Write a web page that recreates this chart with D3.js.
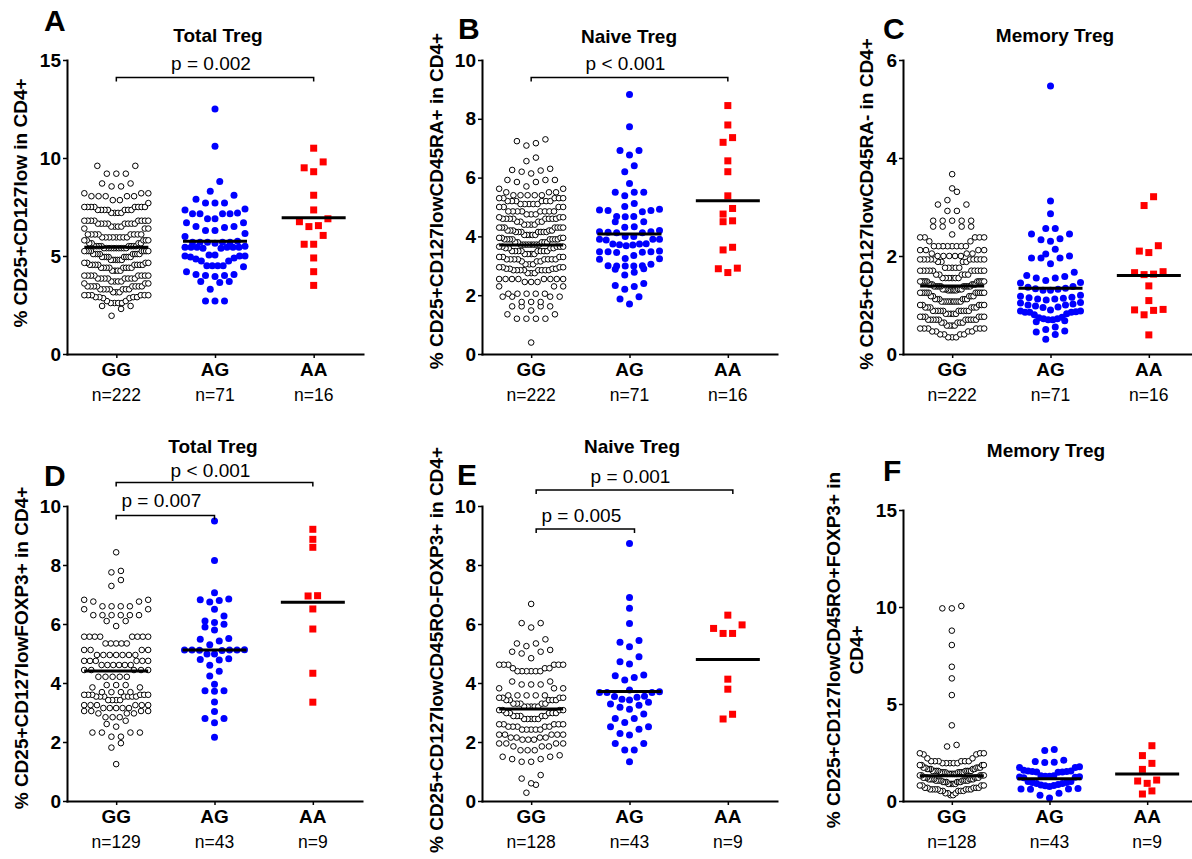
<!DOCTYPE html>
<html>
<head>
<meta charset="utf-8">
<script src="https://cdn.jsdelivr.net/npm/d3@7"></script>
<style>
  body { margin: 0; background: #fff; }
  text { font-family: "Liberation Sans", Arial, sans-serif; fill: #000; }
</style>
</head>
<body>
<svg id="chart" width="1192" height="859"></svg>
<script>
var genotypes = ["GG", "AG", "AA"];

// GG columns are given as [value, count] rows
// A: Total Treg (CD25+CD127low)
var aGG = [[9.6,2],[9.2,3],[8.7,2],[8.55,2],[8.2,3],[8.05,5],[7.85,2],[7.7,1],
  [7.5,8],[7.35,7],[7.2,4],[6.8,8],[6.65,8],[6.5,4],[6.4,3],
  [6.1,8],[5.95,8],[5.8,5],[5.65,4],[5.5,8],[5.4,10],[5.25,8],
  [5.1,8],[4.95,8],[4.8,6],[4.65,4],[4.55,8],[4.4,8],[4.25,4],
  [4.0,8],[3.85,8],[3.7,4],[3.6,3],[3.45,8],[3.3,7],[3.15,3],
  [3.0,6],[2.9,4],[2.85,2],[2.7,2],[2.6,4],[2.45,2],[2.3,1],[1.95,1]];
var aAG = [12.5,10.6,8.8,8.3,8.1,7.9,7.7,7.7,7.7,7.4,7.35,7.15,7.15,7.15,7.15,7.2,
  6.9,6.9,6.7,6.7,6.45,6.5,6.5,6.3,6.3,6.0,6.15,5.7,5.7,5.7,5.75,5.7,5.65,5.7,
  5.45,5.45,5.45,5.4,5.45,5.45,5.4,5.5,5.45,5.05,5.0,5.0,4.95,5.05,4.9,5.0,4.85,
  4.75,4.75,4.5,4.5,4.45,4.5,4.5,4.2,4.05,3.95,4.0,4.0,4.05,3.7,3.65,3.7,3.3,2.7,2.7,2.7];
var aAA = [10.5,9.8,9.5,9.3,8.1,7.35,6.9,6.75,6.55,6.5,6.05,5.6,5.6,4.9,4.2,3.5];
var aMed = [5.45, 5.75, 6.95];
var aN = ["n=222", "n=71", "n=16"];
var aP = ["p = 0.002"];

// B: Naive Treg (CD25+CD127lowCD45RA+)
var bGG = [[7.3,1],[7.24,1],[7.17,1],[7.09,1],[6.68,1],[6.56,1],
  [6.3,1],[6.26,1],[6.24,1],[6.2,1],[6.14,1],[5.92,3],[5.85,2],[5.7,1],[5.62,2],
  [5.5,3],[5.4,5],[5.3,5],[5.2,6],[5.1,5],[5.0,4],[4.85,8],[4.75,3],[4.65,3],
  [4.6,8],[4.5,4],[4.4,4],[4.3,7],[4.2,5],[4.15,7],[4.05,5],[3.95,4],
  [3.9,8],[3.8,5],[3.72,8],[3.65,5],[3.6,4],[3.5,8],[3.4,4],[3.3,4],
  [3.22,8],[3.15,3],[3.05,3],[2.95,4],[2.9,4],[2.85,8],[2.75,3],
  [2.55,8],[2.45,3],[2.3,3],[2.05,5],[1.95,4],
  [1.77,3],[1.62,4],[1.48,1],[1.35,2],[1.2,4],[0.39,1]];
var bAG = [8.83,7.73,6.92,6.92,6.77,6.4,6.2,5.8,5.5,5.5,5.5,5.38,
  5.12,5.02,4.92,4.88,4.84,4.88,4.9,4.68,4.68,4.67,4.5,4.5,
  4.33,4.31,4.2,4.16,4.14,4.12,4.12,4.16,4.0,3.9,3.9,3.9,3.88,4.0,
  3.71,3.72,3.75,3.74,3.74,3.68,3.48,3.48,3.46,3.5,3.48,3.45,
  3.25,3.22,3.24,3.35,3.0,2.99,3.0,2.88,3.05,2.9,2.99,2.99,
  2.69,2.78,2.4,2.33,2.3,2.2,1.95,1.87,1.7];
var bAA = [8.45,7.79,7.36,7.2,6.57,6.2,5.38,4.95,4.76,4.5,4.53,3.63,3.54,2.92,2.77,2.9];
var bMed = [3.71, 4.08, 5.21];
var bN = ["n=222", "n=71", "n=16"];
var bP = ["p < 0.001"];

// C: Memory Treg (CD25+CD127lowCD45RA-)
var cGG = [[3.67,1],[3.38,1],[3.31,1],[3.14,1],[3.05,2],[2.92,2],
  [2.72,5],[2.6,4],[2.44,1],[2.38,5],[2.3,2],[2.2,8],[2.12,4],[2.05,3],
  [2.0,5],[1.93,10],[1.88,4],[1.76,5],[1.7,10],[1.62,5],
  [1.55,6],[1.48,10],[1.42,6],[1.38,10],[1.32,6],
  [1.3,6],[1.25,10],[1.18,5],[1.12,6],[1.07,10],[1.0,5],
  [0.95,6],[0.88,10],[0.82,5],[0.76,6],[0.7,10],[0.64,5],
  [0.58,4],[0.52,6],[0.46,4],[0.4,4],[0.34,3]];
var cAG = [5.47,3.12,2.86,2.56,2.56,2.45,2.45,2.35,2.33,2.3,2.14,2.0,1.96,1.96,1.96,2.04,1.84,1.67,
  1.6,1.55,1.5,1.45,1.46,1.55,1.58,1.3,1.32,1.34,1.36,1.38,1.33,1.3,
  1.15,1.12,1.18,1.16,1.2,1.14,1.12,1.1,1.05,1.0,0.98,0.96,0.95,1.0,1.02,1.04,
  0.88,0.85,0.85,0.8,0.82,0.85,0.86,0.9,0.88,0.75,0.72,0.7,0.68,0.66,0.7,0.72,0.74,
  0.55,0.47,0.45,0.4,0.5,0.3];
var cAA = [3.21,3.03,2.21,2.1,2.07,1.66,1.62,1.63,1.68,1.39,1.09,0.91,0.89,0.8,0.9,0.39];
var cMed = [1.39, 1.34, 1.6];
var cN = ["n=222", "n=71", "n=16"];

// D: Total Treg (CD25+CD127lowFOXP3+)
var dGG = [[8.43,1],[7.8,1],[7.75,1],[7.49,1],[7.29,1],
  [6.82,2],[6.76,2],[6.6,4],[6.5,2],[6.3,6],[6.1,2],[5.93,1],
  [5.57,8],[5.34,5],[5.12,4],[4.95,7],[4.75,6],[4.61,6],[4.44,5],[4.21,5],
  [3.93,3],[3.85,2],[3.69,4],[3.6,6],[3.54,7],[3.42,4],
  [3.25,6],[3.15,5],[3.05,4],[2.97,3],[2.84,3],[2.72,1],[2.61,1],[2.52,1],
  [2.32,4],[2.18,2],[1.96,1],[1.81,1],[1.25,1]];
var dAG = [9.49,8.15,7.06,6.82,6.8,6.85,6.75,6.5,6.27,6.1,6.05,5.99,5.9,5.8,
  5.48,5.3,5.42,5.51,5.12,5.12,5.11,5.13,5.12,5.1,5.12,
  4.98,4.98,4.8,4.78,4.82,4.6,4.4,4.24,3.96,3.74,3.72,3.74,
  3.36,3.03,2.8,2.8,2.65,2.16];
var dAA = [9.21,8.87,8.6,6.95,6.96,6.51,5.83,4.33,3.35];
var dMed = [4.41, 5.12, 6.74];
var dN = ["n=129", "n=43", "n=9"];
var dP = ["p < 0.001", "p = 0.007"];

// E: Naive Treg (CD25+CD127lowCD45RO-FOXP3+)
var eGG = [[6.68,1],[6.03,2],[5.88,1],
  [5.48,1],[5.34,2],[5.25,1],[5.12,1],[5.06,2],[5.0,1],[4.84,1],
  [4.62,6],[4.5,3],[4.4,6],[4.05,2],[3.95,3],[3.82,3],
  [3.58,5],[3.5,4],[3.42,5],[3.3,5],[3.2,5],[3.08,4],
  [2.98,5],[2.88,5],[2.78,5],[2.6,5],[2.52,5],[2.42,5],
  [2.25,5],[2.15,4],[2.08,3],[1.95,4],[1.85,3],[1.72,3],
  [1.55,1],[1.5,2],[1.42,2],[1.33,2],
  [0.88,1],[0.76,1],[0.6,1],[0.55,1],[0.28,1]];
var eAG = [8.73,6.9,6.53,6.02,5.44,5.38,5.23,4.89,4.72,4.64,4.27,4.25,4.19,4.1,
  3.76,3.68,3.7,3.68,3.68,3.54,3.42,3.52,3.45,3.55,3.35,
  3.29,3.25,3.11,3.18,2.95,2.8,2.8,2.52,2.43,2.66,2.52,
  2.24,2.29,1.95,1.95,1.73,1.73,1.33];
var eAA = [6.3,5.97,5.85,5.68,5.68,4.13,3.79,2.94,2.78];
var eMed = [3.12, 3.71, 4.8];
var eN = ["n=128", "n=43", "n=9"];
var eP = ["p = 0.001", "p = 0.005"];

// F: Memory Treg (CD25+CD127lowCD45RO+FOXP3+)
var fGG = [[10.05,1],[9.93,2],[8.78,1],[8.04,1],[6.92,1],[6.32,1],[5.46,1],[3.9,1],[2.89,1],[2.81,1],
  [2.46,3],[2.4,2],[2.2,2],[2.05,6],[1.95,5],[1.85,4],[1.72,5],[1.65,5],
  [1.55,8],[1.48,8],[1.4,6],[1.32,5],[1.2,6],[1.12,7],[1.05,8],[0.98,6],
  [0.88,5],[0.8,4],[0.68,5],[0.6,7],[0.52,5],[0.4,3],[0.3,2]];
var fAG = [2.66,2.6,2.1,2.03,2.0,1.99,1.76,1.73,1.73,
  1.58,1.55,1.52,1.5,1.5,1.52,1.48,1.55,1.3,1.28,1.25,1.22,1.2,1.24,1.28,1.3,
  1.0,0.95,0.9,0.85,0.9,0.95,1.0,0.82,0.78,0.75,0.8,0.65,0.62,0.6,0.62,0.4,0.3,0.15];
var fAA = [2.85,2.34,1.94,1.63,1.03,0.91,1.08,0.52,0.36];
var fMed = [1.3, 1.15, 1.39];
var fN = ["n=128", "n=43", "n=9"];

var panels = [
  {letter: "A", title: "Total Treg", ylab: ["% CD25+CD127low in CD4+"],
   gg: aGG, ag: aAG, aa: aAA, med: aMed, n: aN, ymax: 15, ticks: [0, 5, 10, 15],
   left: 67, right: 363, top: 60, bottom: 354, binPx: 10.5,
   letterXY: [44, 31], titleXY: [218, 42], ylabX: [20], ylabY: 203,
   brackets: [{a: 0, b: 2, y: 77.5, ty: 70, text: aP[0]}]},
  {letter: "B", title: "Naive Treg", ylab: ["% CD25+CD127lowCD45RA+ in CD4+"],
   gg: bGG, ag: bAG, aa: bAA, med: bMed, n: bN, ymax: 10, ticks: [0, 2, 4, 6, 8, 10],
   left: 482, right: 777, top: 60, bottom: 354, binPx: 7.5,
   letterXY: [458, 39], titleXY: [629, 43], ylabX: [436], ylabY: 201,
   brackets: [{a: 0, b: 2, y: 77.5, ty: 70, text: bP[0]}]},
  {letter: "C", title: "Memory Treg", ylab: ["% CD25+CD127lowCD45RA- in CD4+"],
   gg: cGG, ag: cAG, aa: cAA, med: cMed, n: cN, ymax: 6, ticks: [0, 2, 4, 6],
   left: 903, right: 1198, top: 60, bottom: 354, binPx: 9.5,
   letterXY: [883, 39], titleXY: [1055, 42], ylabX: [866], ylabY: 204,
   brackets: []},
  {letter: "D", title: "Total Treg", ylab: ["% CD25+CD127lowFOXP3+ in CD4+"],
   gg: dGG, ag: dAG, aa: dAA, med: dMed, n: dN, ymax: 10, ticks: [0, 2, 4, 6, 8, 10],
   left: 67, right: 362, top: 506, bottom: 801, binPx: 7,
   letterXY: [44, 486], titleXY: [213, 453], ylabX: [21], ylabY: 648,
   brackets: [{a: 0, b: 2, y: 482.5, ty: 476.5, text: dP[0]},
              {a: 0, b: 1, y: 515.5, ty: 507, text: dP[1]}]},
  {letter: "E", title: "Naive Treg", ylab: ["% CD25+CD127lowCD45RO-FOXP3+ in CD4+"],
   gg: eGG, ag: eAG, aa: eAA, med: eMed, n: eN, ymax: 10, ticks: [0, 2, 4, 6, 8, 10],
   left: 482, right: 777, top: 506, bottom: 801, binPx: 9,
   letterXY: [457, 485], titleXY: [632, 453], ylabX: [436], ylabY: 650,
   brackets: [{a: 0, b: 2, y: 490, ty: 482.5, text: eP[0], dx: 5},
              {a: 0, b: 1, y: 529, ty: 521.5, text: eP[1], dx: 5}]},
  {letter: "F", title: "Memory Treg", ylab: ["% CD25+CD127lowCD45RO+FOXP3+ in", "CD4+"],
   gg: fGG, ag: fAG, aa: fAA, med: fMed, n: fN, ymax: 15, ticks: [0, 5, 10, 15],
   left: 903, right: 1196, top: 510, bottom: 801, binPx: 10,
   letterXY: [883, 481], titleXY: [1046, 457], ylabX: [833, 856], ylabY: 650,
   brackets: []}
];

var svg = d3.select("#chart");
svg.append("rect").attr("width", 1192).attr("height", 859).attr("fill", "#fff");

var GAP = 9.5;

function expand(rows) {
  var out = [];
  rows.forEach(function (r) { for (var i = 0; i < r[1]; i++) out.push(r[0]); });
  return out;
}

// column scatter: values close in y share a row, lowest in the middle
function swarm(values, y, cx, halfW, binPx) {
  var sorted = values.slice().sort(d3.ascending);
  var bins = [], cur = null;
  sorted.forEach(function (v) {
    var py = y(v);
    if (!cur || cur.start - py > binPx) { cur = {start: py, items: []}; bins.push(cur); }
    cur.items.push(v);
  });
  var pts = [];
  bins.forEach(function (b) {
    var n = b.items.length;
    var slots = d3.range(n).map(function (j) { return j - (n - 1) / 2; })
      .sort(function (p, q) { return Math.abs(p) - Math.abs(q) || p - q; });
    var maxOff = Math.abs(slots[n - 1]);
    var s = maxOff > 0 ? Math.min(GAP, halfW / maxOff) : GAP;
    b.items.forEach(function (v, i) { pts.push({v: v, x: cx + slots[i] * s, y: y(v)}); });
  });
  return pts;
}

panels.forEach(function (p) {
  var g = svg.append("g");
  var x = d3.scalePoint().domain(genotypes).range([p.left, p.right]).padding(0.5);
  var y = d3.scaleLinear().domain([0, p.ymax]).range([p.bottom, p.top]);

  // points
  var ggPts = swarm(expand(p.gg), y, x("GG"), 32, p.binPx);
  g.append("g").selectAll("circle").data(ggPts).enter().append("circle")
    .attr("cx", function (d) { return d.x; })
    .attr("cy", function (d) { return d.y; })
    .attr("r", 2.8)
    .attr("fill", "#fff").attr("stroke", "#000").attr("stroke-width", 1);

  var agPts = swarm(p.ag, y, x("AG"), 30, p.binPx);
  g.append("g").selectAll("circle").data(agPts).enter().append("circle")
    .attr("cx", function (d) { return d.x; })
    .attr("cy", function (d) { return d.y; })
    .attr("r", 3.5)
    .attr("fill", "#0000ff");

  var aaPts = swarm(p.aa, y, x("AA"), 30, p.binPx);
  g.append("g").selectAll("rect").data(aaPts).enter().append("rect")
    .attr("x", function (d) { return d.x - 3.5; })
    .attr("y", function (d) { return d.y - 3.5; })
    .attr("width", 7).attr("height", 7)
    .attr("fill", "#ff0000");

  // medians
  g.append("g").selectAll("line").data(p.med).enter().append("line")
    .attr("x1", function (d, i) { return x(genotypes[i]) - 32; })
    .attr("x2", function (d, i) { return x(genotypes[i]) + 32; })
    .attr("y1", function (d) { return y(d); })
    .attr("y2", function (d) { return y(d); })
    .attr("stroke", "#000").attr("stroke-width", 3);

  // axes
  var ya = g.append("g").attr("transform", "translate(" + p.left + ",0)")
    .call(d3.axisLeft(y).tickValues(p.ticks).tickFormat(d3.format("d"))
      .tickSize(4).tickSizeOuter(0).tickPadding(2));
  var xa = g.append("g").attr("transform", "translate(0," + p.bottom + ")")
    .call(d3.axisBottom(x).tickSize(4).tickSizeOuter(0).tickFormat(""));
  [ya, xa].forEach(function (a) {
    a.select(".domain").attr("stroke-width", 2).attr("stroke-linecap", "square");
    a.selectAll(".tick line").attr("stroke-width", 1.5);
  });
  ya.selectAll(".tick text")
    .style("font-family", '"Liberation Sans", Arial, sans-serif')
    .attr("font-size", 19).attr("font-weight", "bold").attr("fill", "#000");

  // category and n labels
  genotypes.forEach(function (k, i) {
    g.append("text").attr("x", x(k)).attr("y", p.bottom + 22)
      .attr("text-anchor", "middle").attr("font-size", 19).attr("font-weight", "bold").text(k);
    g.append("text").attr("x", x(k)).attr("y", p.bottom + 47)
      .attr("text-anchor", "middle").attr("font-size", 17.5).text(p.n[i]);
  });

  // title and panel letter
  g.append("text").attr("x", p.titleXY[0]).attr("y", p.titleXY[1])
    .attr("text-anchor", "middle").attr("font-size", 19).attr("font-weight", "bold").text(p.title);
  g.append("text").attr("x", p.letterXY[0]).attr("y", p.letterXY[1])
    .attr("font-size", 30).attr("font-weight", "bold").text(p.letter);

  // y label
  p.ylab.forEach(function (s, i) {
    g.append("text")
      .attr("transform", "translate(" + p.ylabX[i] + "," + p.ylabY + ") rotate(-90)")
      .attr("text-anchor", "middle").attr("dy", "0.35em")
      .attr("font-size", 19).attr("font-weight", "bold").text(s);
  });

  // significance brackets
  p.brackets.forEach(function (b) {
    var dx = b.dx || 0;
    var x0 = x(genotypes[b.a]) + dx, x1 = x(genotypes[b.b]) + dx;
    g.append("path")
      .attr("d", "M" + x0 + "," + (b.y + 4) + "V" + b.y + "H" + x1 + "V" + (b.y + 4))
      .attr("fill", "none").attr("stroke", "#000").attr("stroke-width", 1.5);
    g.append("text").attr("x", (x0 + x1) / 2 - 4).attr("y", b.ty)
      .attr("text-anchor", "middle").attr("font-size", 19).text(b.text);
  });
});
</script>
</body>
</html>
